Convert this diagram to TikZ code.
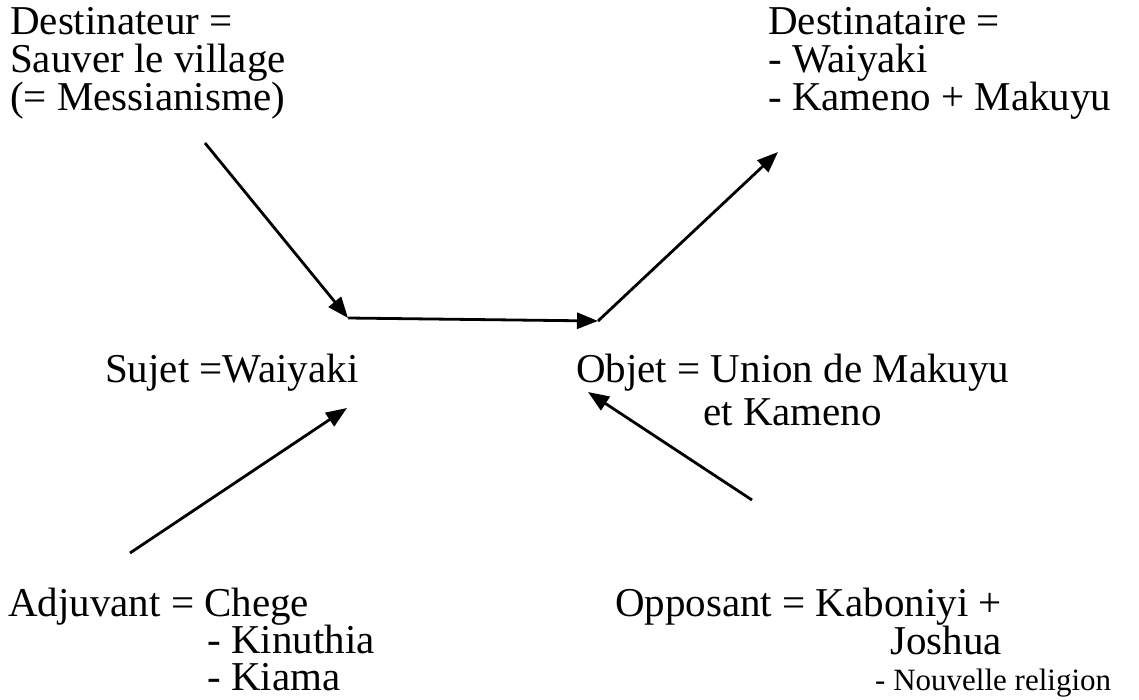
\documentclass[tikz,border=0pt]{standalone}
\usepackage{fontspec}
\setmainfont{Liberation Serif}
\usetikzlibrary{arrows.meta}
\begin{document}
\begin{tikzpicture}[x=1pt,y=-1pt,
  lbl/.style={anchor=base west,inner sep=0pt,font=\fontsize{41}{46}\selectfont},
  small/.style={anchor=base west,inner sep=0pt,font=\fontsize{31}{36}\selectfont},
  arr/.style={line width=2.8pt,-{Triangle[length=21pt,width=16pt]}}]
\useasboundingbox[fill=white] (0,0) rectangle (1139,699);
% top-left
\node[lbl] (dr1) at (10,34) {Destinateur =};
\node[lbl] (dr2) at (10,72) {Sauver le village};
\node[lbl] (dr3) at (10,110) {(= Messianisme)};
% top-right
\node[lbl] (de1) at (768,34) {Destinataire =};
\node[lbl] (de2) at (768,72) {- Waiyaki};
\node[lbl] (de3) at (768,110) {- Kameno + Makuyu};
% middle
\node[lbl] (suj) at (105,382) {Sujet =Waiyaki};
\node[lbl] (obj1) at (576,382) {Objet = Union de Makuyu};
\node[lbl] (obj2) at (703,425) {et Kameno};
% bottom-left
\node[lbl] (adj1) at (8,616) {Adjuvant = Chege};
\node[lbl] (adj2) at (207,653) {- Kinuthia};
\node[lbl] (adj3) at (207,690) {- Kiama};
% bottom-right
\node[lbl] (opp1) at (615,616) {Opposant = Kaboniyi +};
\node[lbl] (opp2) at (890,654) {Joshua};
\node[small] (opp3) at (875,690) {- Nouvelle religion};
% arrow end points
\coordinate (p1) at (205,143);
\coordinate (p2) at (348,318);
\coordinate (p3) at (598,321);
\coordinate (p4) at (778,152);
\coordinate (q1) at (130,553);
\coordinate (q2) at (347,408);
\coordinate (r1) at (752,500);
\coordinate (r2) at (588,392);
\draw[arr] (p1) -- (p2);
\draw[arr] (p2) -- (p3);
\draw[arr] (p3) -- (p4);
\draw[arr] (q1) -- (q2);
\draw[arr] (r1) -- (r2);
\end{tikzpicture}
\end{document}
